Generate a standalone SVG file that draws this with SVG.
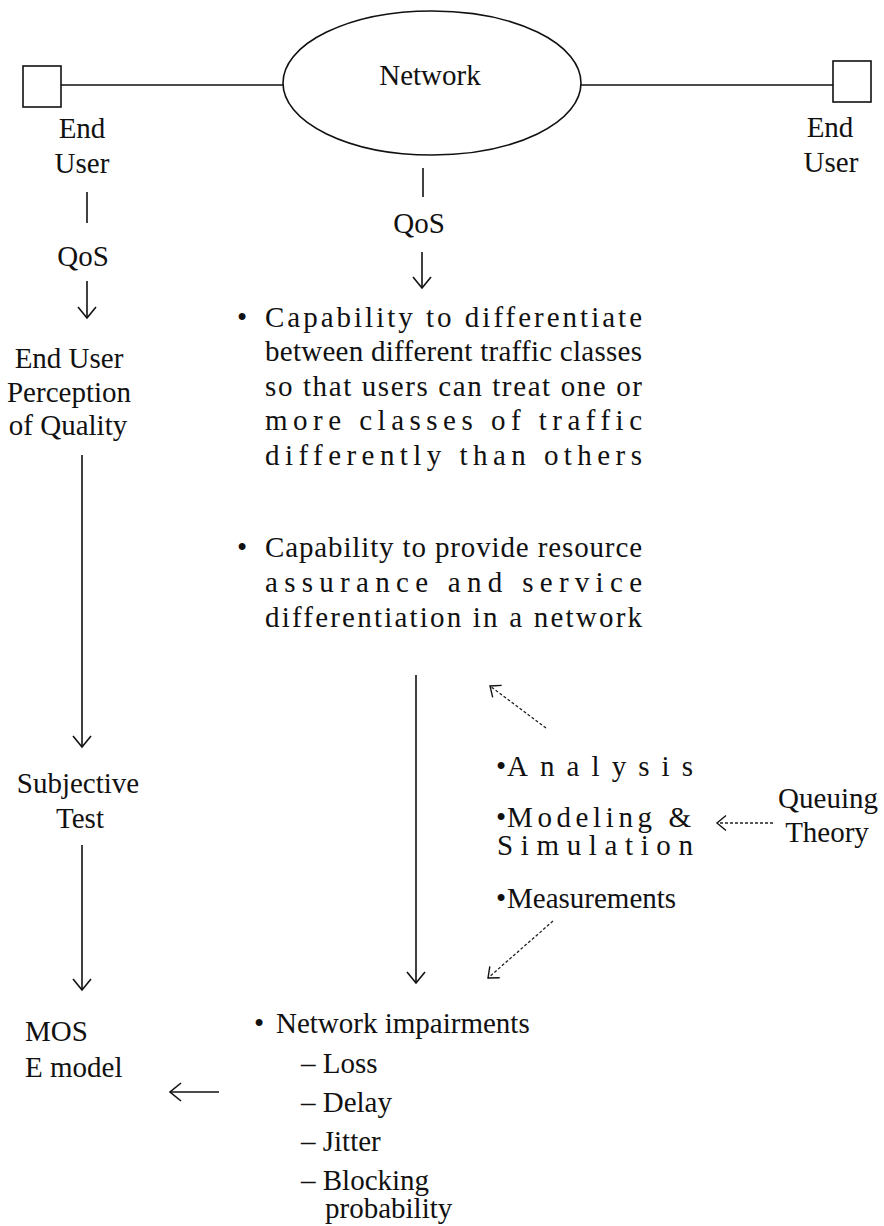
<svg xmlns="http://www.w3.org/2000/svg" width="884" height="1226" viewBox="0 0 884 1226">
<style>
text{font-family:"Liberation Serif","Times New Roman",serif;font-size:29px;fill:#111}
.c{text-anchor:middle}
.ln{stroke:#111;stroke-width:1.6;fill:none}
.dl{stroke:#222;stroke-width:1.3;fill:none;stroke-dasharray:3 2}
.shape{stroke:#111;stroke-width:1.6;fill:#fff}
</style>
<defs>
<marker id="ah" markerUnits="userSpaceOnUse" markerWidth="24" markerHeight="24" refX="12" refY="12" orient="auto">
<path d="M1,3 L12,12 L1,21" fill="none" stroke="#111" stroke-width="1.6"/>
</marker>
<marker id="ahs" markerUnits="userSpaceOnUse" markerWidth="20" markerHeight="20" refX="10" refY="10" orient="auto">
<path d="M1,2.5 L10,10 L1,17.5" fill="none" stroke="#111" stroke-width="1.4"/>
</marker>
</defs>
<rect width="884" height="1226" fill="#fff"/>

<g id="connectors">
<line class="ln" x1="61" y1="85" x2="283" y2="85"/>
<line class="ln" x1="581" y1="85" x2="833" y2="85"/>
<line class="ln" x1="87" y1="192" x2="87" y2="223"/>
<line class="ln" x1="87" y1="281" x2="87" y2="318" marker-end="url(#ah)"/>
<line class="ln" x1="423" y1="168" x2="423" y2="197"/>
<line class="ln" x1="422" y1="252" x2="422" y2="288" marker-end="url(#ah)"/>
<line class="ln" x1="82" y1="455" x2="82" y2="747" marker-end="url(#ah)"/>
<line class="ln" x1="82" y1="845" x2="82" y2="990" marker-end="url(#ah)"/>
<line class="ln" x1="416" y1="675" x2="416" y2="983" marker-end="url(#ah)"/>
<line class="ln" x1="219" y1="1092" x2="170" y2="1092" marker-end="url(#ah)"/>
<line class="dl" x1="546" y1="728" x2="490" y2="686" marker-end="url(#ahs)"/>
<line class="dl" x1="773" y1="823" x2="717" y2="823" marker-end="url(#ahs)"/>
<line class="dl" x1="553" y1="921" x2="488" y2="978" marker-end="url(#ahs)"/>
</g>

<g id="end-user-left">
<rect class="shape" x="23" y="66" width="38" height="41"/>
<text class="c" x="82" y="138">End</text>
<text class="c" x="82" y="173">User</text>
</g>

<g id="network">
<ellipse class="shape" cx="432" cy="83" rx="149" ry="72"/>
<text class="c" x="430" y="85">Network</text>
</g>

<g id="end-user-right">
<rect class="shape" x="833" y="61" width="38" height="41"/>
<text class="c" x="830" y="137">End</text>
<text class="c" x="831" y="172">User</text>
</g>

<g id="qos-left">
<text class="c" x="83" y="266">QoS</text>
</g>

<g id="qos-middle">
<text class="c" x="419" y="233">QoS</text>
</g>

<g id="perception">
<text class="c" x="69" y="368">End User</text>
<text class="c" x="69" y="402">Perception</text>
<text class="c" x="68" y="435">of Quality</text>
</g>

<g id="subjective-test">
<text class="c" x="78" y="793">Subjective</text>
<text class="c" x="80" y="828">Test</text>
</g>

<g id="mos">
<text x="25" y="1041">MOS</text>
<text x="25" y="1077">E model</text>
</g>

<g id="capability">
<text x="237" y="327">•</text>
<text x="265" y="327" textLength="377" lengthAdjust="spacing">Capability to differentiate</text>
<text x="265" y="361" textLength="377" lengthAdjust="spacing">between different traffic classes</text>
<text x="265" y="396" textLength="377" lengthAdjust="spacing">so that users can treat one or</text>
<text x="265" y="430" textLength="377" lengthAdjust="spacing">more classes of traffic</text>
<text x="265" y="465" textLength="377" lengthAdjust="spacing">differently than others</text>
<text x="237" y="557">•</text>
<text x="265" y="557" textLength="377" lengthAdjust="spacing">Capability to provide resource</text>
<text x="265" y="592" textLength="377" lengthAdjust="spacing">assurance and service</text>
<text x="265" y="627" textLength="377" lengthAdjust="spacing">differentiation in a network</text>
</g>

<g id="methods">
<text x="496" y="776">•</text>
<text x="507" y="776" textLength="186" lengthAdjust="spacing">Analysis</text>
<text x="496" y="827">•</text>
<text x="507" y="827" textLength="184" lengthAdjust="spacing">Modeling &amp;</text>
<text x="497" y="855" textLength="196" lengthAdjust="spacing">Simulation</text>
<text x="496" y="908">•</text>
<text x="507" y="908">Measurements</text>
</g>

<g id="queuing-theory">
<text class="c" x="828" y="808">Queuing</text>
<text class="c" x="827" y="842">Theory</text>
</g>

<g id="impairments">
<text x="254" y="1033">•</text>
<text x="276" y="1033">Network impairments</text>
<text x="301" y="1073">– Loss</text>
<text x="301" y="1112">– Delay</text>
<text x="301" y="1151">– Jitter</text>
<text x="301" y="1190">– Blocking</text>
<text x="325" y="1218">probability</text>
</g>
</svg>
